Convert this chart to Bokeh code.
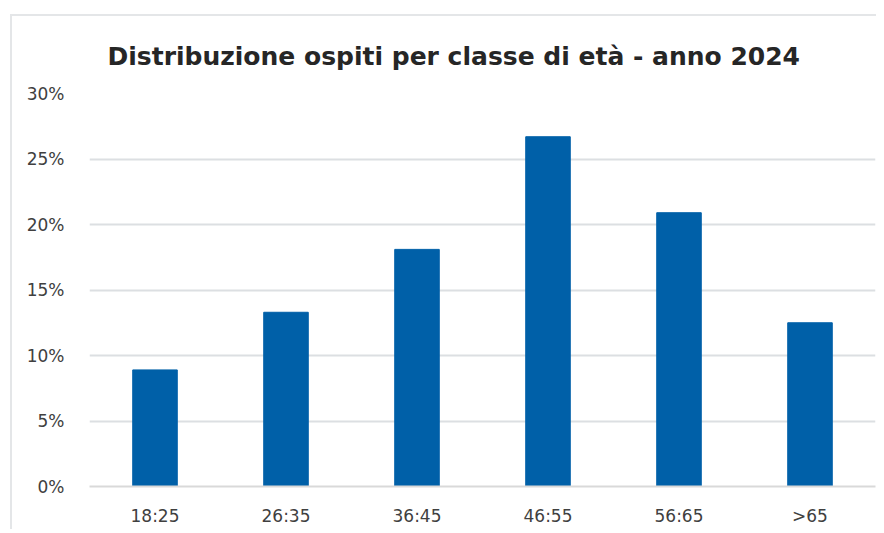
from bokeh.plotting import figure
from bokeh.models import NumeralTickFormatter, FixedTicker, Range1d
from bokeh.embed import file_html
from bokeh.resources import INLINE

categories = ["18:25", "26:35", "36:45", "46:55", "56:65", ">65"]
values = [0.089, 0.133, 0.181, 0.267, 0.209, 0.125]
y_ticks = [0, 0.05, 0.10, 0.15, 0.20, 0.25, 0.30]

p = figure(x_range=categories, y_range=Range1d(0, 0.30),
           width=866, height=515, output_backend="svg", toolbar_location=None,
           min_border_left=77, min_border_right=3, min_border_top=76, min_border_bottom=45,
           title="Distribuzione ospiti per classe di età - anno 2024")
p.styles = {"border-top": "2px solid #e4e6e8", "border-left": "2px solid #e4e6e8",
            "transform": "translate(10px, 14px)"}

p.vbar(x=categories, top=values, width=0.34, color="#0060A8")

p.title.align = "left"
p.title.text_font = "DejaVu Sans"
p.title.text_font_size = "25px"
p.title.text_font_style = "bold"
p.title.text_color = "#262626"
p.title.offset = 18
p.title.standoff = 46

p.yaxis.ticker = FixedTicker(ticks=y_ticks)
p.yaxis.formatter = NumeralTickFormatter(format="0%")
p.yaxis.axis_line_color = None
p.yaxis.major_tick_line_color = None
p.yaxis.minor_tick_line_color = None
p.yaxis.major_label_standoff = 19
p.xaxis.axis_line_color = "#d9d9d9"
p.xaxis.axis_line_width = 2
p.xaxis.major_tick_line_color = None
p.xaxis.major_label_standoff = 13
for ax in (p.xaxis, p.yaxis):
    ax.major_label_text_font = "DejaVu Sans"
    ax.major_label_text_font_size = "17px"
    ax.major_label_text_color = "#404040"

p.xgrid.grid_line_color = None
p.ygrid.grid_line_color = "#dcdfe2"
p.ygrid.grid_line_width = 2
p.outline_line_color = None
p.x_range.range_padding = 0

open("out.html", "w").write(file_html(p, INLINE))
